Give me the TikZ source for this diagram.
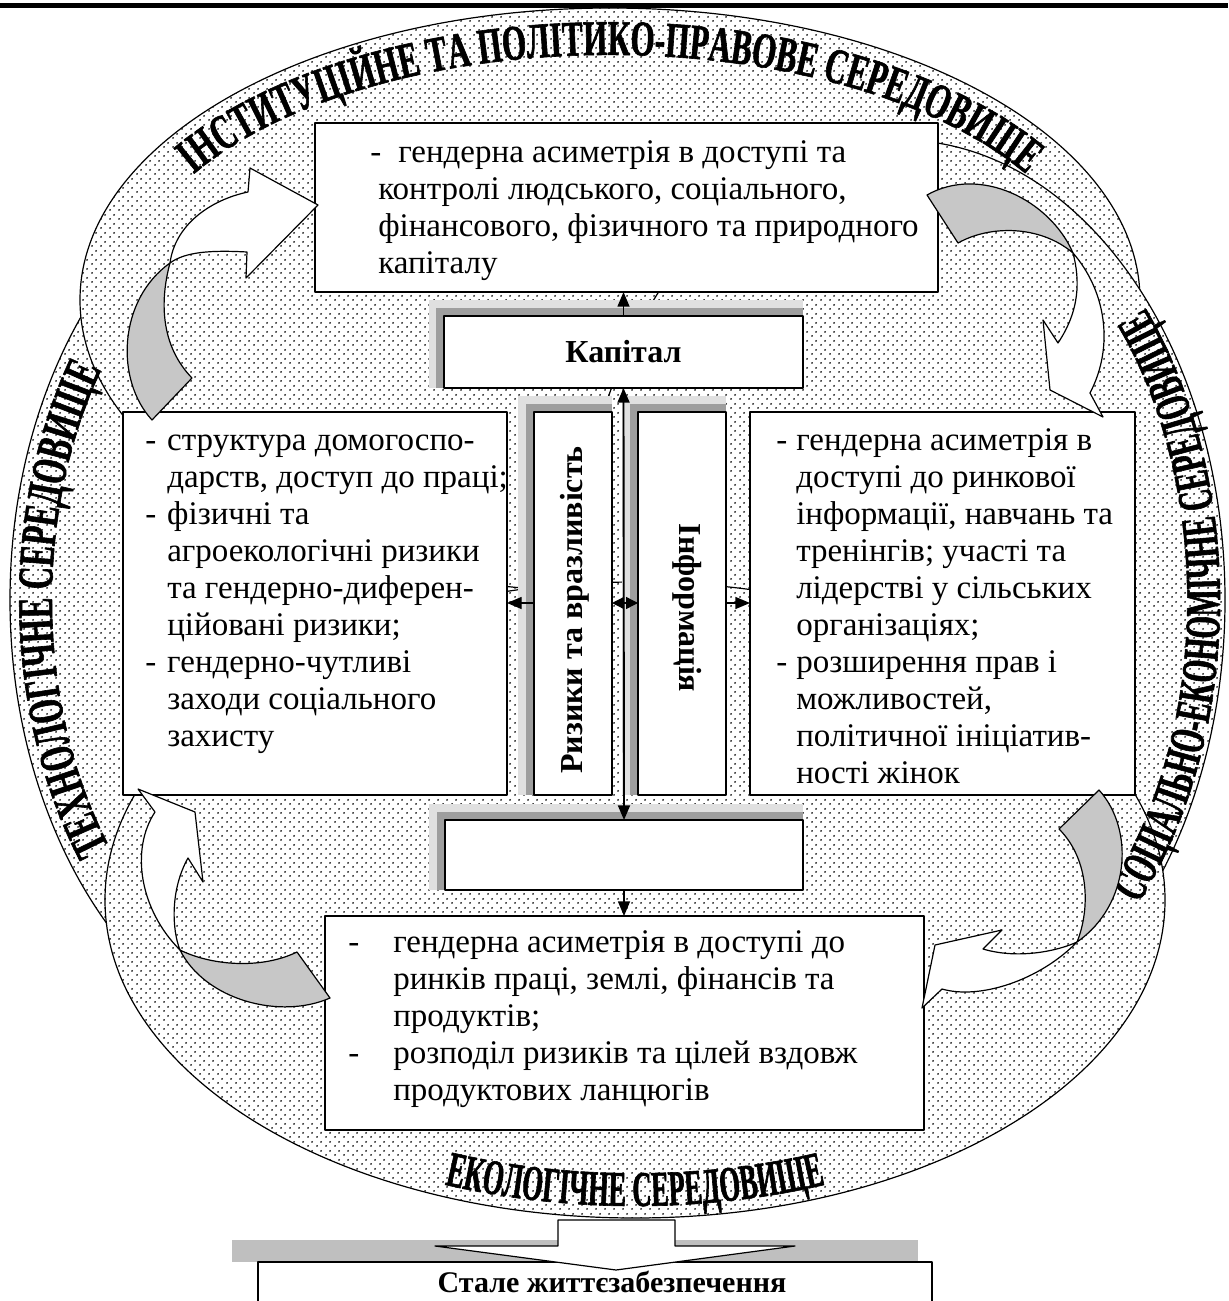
\documentclass[tikz,border=0pt]{standalone}
\usepackage{fontspec}
\setmainfont{Liberation Serif}
\newfontfamily\arcA[FakeStretch=0.62,FakeBold=1.2]{Liberation Serif}
\newfontfamily\arcB[FakeStretch=0.58,FakeBold=1.2]{Liberation Serif}
\newfontfamily\arcC[FakeStretch=0.53,FakeBold=1.2]{Liberation Serif}
\usetikzlibrary{arrows.meta,patterns.meta,decorations.text,fit,calc}
\newcommand\bodyfont{\fontsize{24.75pt}{27.75pt}\selectfont}
\newcommand\lblfont{\bfseries\fontsize{24pt}{24pt}\selectfont}
\tikzdeclarepattern{
  name=wdots,
  type=uncolored,
  bounding box={(0pt,0pt) and (6.75pt,6.75pt)},
  tile size={(6.75pt,6.75pt)},
  code={
    \pgfpathcircle{\pgfpoint{1.69pt}{1.69pt}}{0.8pt}
    \pgfpathcircle{\pgfpoint{5.06pt}{5.06pt}}{0.8pt}
    \pgfusepath{fill}
  }
}
\begin{document}
\begin{tikzpicture}[x=0.75pt,y=-0.75pt,line join=round,
  box/.style={draw=black, line width=0.9pt, fill=white, inner sep=0pt, outer sep=0pt},
  shdark/.style={fill=black!38},
  shlight/.style={fill=black!12},
  arr/.style={line width=1pt, -{Triangle[length=11pt,width=9pt]}},
  darr/.style={line width=1.4pt, {Triangle[length=11pt,width=9pt]}-{Triangle[length=11pt,width=9pt]}},
  sarr/.style={line width=1pt, {Triangle[length=9pt,width=9pt]}-{Triangle[length=9pt,width=9pt]}},
  cwhite/.style={draw=black, line width=0.9pt, fill=white},
  cgrey/.style={draw=black, line width=0.9pt, fill=black!22},
  txt/.style={inner sep=0pt, anchor=base west, font=\bodyfont}
]
\useasboundingbox (0,0) rectangle (1228,1301);

% ---- environments (dotted ellipses)
\foreach \cx/\cy/\rx/\ry in {345/600/335/460, 610/300/530/292, 900/600/325/460, 635/900/530/318}{
  \fill[white] (\cx,\cy) ellipse [x radius=\rx, y radius=\ry];
  \fill[pattern=wdots, pattern color=black] (\cx,\cy) ellipse [x radius=\rx, y radius=\ry];
  \draw[line width=0.9pt] (\cx,\cy) ellipse [x radius=\rx, y radius=\ry];
}

% header rule
\draw[line width=3.8pt] (0,5.5) -- (1228,5.5);

% ---- texts along the ellipses
\path[decorate, decoration={text along path, text align=center,
  text={|\arcA\bfseries\fontsize{37.5pt}{37.5pt}\selectfont|ІНСТИТУЦІЙНЕ ТА ПОЛІТИКО-ПРАВОВЕ СЕРЕДОВИЩЕ}}]
  (610,300) ++(195:485 and 245) arc[start angle=195, end angle=345, x radius=485, y radius=245];
\path[decorate, decoration={text along path, text align=center,
  text={|\arcA\bfseries\fontsize{37.5pt}{37.5pt}\selectfont|ТЕХНОЛОГІЧНЕ СЕРЕДОВИЩЕ}}]
  (345,600) ++(128:293 and 415) arc[start angle=128, end angle=229, x radius=293, y radius=415];
\path[decorate, decoration={text along path, text align=center,
  text={|\arcB\bfseries\fontsize{37.5pt}{37.5pt}\selectfont|СОЦІАЛЬНО-ЕКОНОМІЧНЕ СЕРЕДОВИЩЕ}}]
  (900,600) ++(52:320 and 455) arc[start angle=52, end angle=-50, x radius=320, y radius=455];
\path[decorate, decoration={text along path, text align=center,
  text={|\arcC\bfseries\fontsize{37.5pt}{37.5pt}\selectfont|ЕКОЛОГІЧНЕ СЕРЕДОВИЩЕ}}]
  (635,900) ++(118:518 and 306) arc[start angle=118, end angle=62, x radius=518, y radius=306];

% ---- shadows
\fill[shlight] (429,300) rectangle (803,388);
\fill[shdark] (436,308) rectangle (803,388);
\fill[shlight] (518,396) rectangle (612,795);
\fill[shdark] (526,404) rectangle (612,795);
\fill[shlight] (622,396) rectangle (726,795);
\fill[shdark] (630,404) rectangle (726,795);
\fill[shlight] (429,804) rectangle (803,890);
\fill[shdark] (437,812) rectangle (803,890);

% ---- boxes
\node[box, fit={(315,123) (938,292)}] (T) {};
\node[box, fit={(444,316) (803,388)}] (K) {};
\node[box, fit={(123,412) (507,795)}] (L) {};
\node[box, fit={(534,412) (612,795)}] (R) {};
\node[box, fit={(638,412) (726,795)}] (I) {};
\node[box, fit={(750,412) (1135,795)}] (P) {};
\node[box, fit={(445,820) (803,890)}] (E) {};
\node[box, fit={(325,916) (924,1130)}] (B) {};

% ---- box texts
\node[txt] (Ttx) at (370,163) {\begin{tabular}[t]{@{}p{21pt}@{}l@{}}
-&гендерна асиметрія в доступі та\\
\multicolumn{2}{@{\hspace{6pt}}l@{}}{контролі людського, соціального,}\\
\multicolumn{2}{@{\hspace{6pt}}l@{}}{фінансового, фізичного та природного}\\
\multicolumn{2}{@{\hspace{6pt}}l@{}}{капіталу}
\end{tabular}};
\node[txt] (Ltx) at (145,450) {\begin{tabular}[t]{@{}p{16.5pt}@{}l@{}}
-&структура домогоспо-\\
&дарств, доступ до праці;\\
-&фізичні та\\
&агроекологічні ризики\\
&та гендерно-диферен-\\
&ційовані ризики;\\
-&гендерно-чутливі\\
&заходи соціального\\
&захисту
\end{tabular}};
\node[txt] (Ptx) at (776,450) {\begin{tabular}[t]{@{}p{15pt}@{}l@{}}
-&гендерна асиметрія в\\
&доступі до ринкової\\
&інформації, навчань та\\
&тренінгів; участі та\\
&лідерстві у сільських\\
&організаціях;\\
-&розширення прав і\\
&можливостей,\\
&політичної ініціатив-\\
&ності жінок
\end{tabular}};
\node[txt] (Btx) at (348,952) {\begin{tabular}[t]{@{}p{33.75pt}@{}l@{}}
-&гендерна асиметрія в доступі до\\
&ринків праці, землі, фінансів та\\
&продуктів;\\
-&розподіл ризиків та цілей вздовж\\
&продуктових ланцюгів
\end{tabular}};
\node[font=\lblfont] (Kt) at (K.center) {Капітал};
\node[font=\lblfont, rotate=90] (Rtx) at (575,610) {Ризики та вразливість};
\node[font=\lblfont, rotate=-90] (Itx) at (687,608) {Інформація};

% ---- connectors
\coordinate (h) at (0,603);
\draw[arr] (K.north) -- (K.north |- T.south);
\draw[darr] (K.south) -- (E.north);
\draw[arr] (E.south) -- (E.south |- B.north);
\draw[arr] (R.west |- h) -- (L.east |- h);
\draw[arr] (I.east |- h) -- (P.west |- h);
\draw[sarr] (R.east |- h) -- (I.west |- h);

% ---- curved block arrows
% top-left
\filldraw[cwhite] (170,263) .. controls (175,225) and (210,200) .. (248,192) -- (250,168) -- (318,205) -- (246,278) -- (247,252) .. controls (210,250) and (185,252) .. (170,263) -- cycle;
\filldraw[cgrey] (152,420) .. controls (115,380) and (118,300) .. (170,263) .. controls (160,300) and (160,345) .. (192,378) -- cycle;
% top-right
\filldraw[cgrey] (927,195) .. controls (980,165) and (1050,200) .. (1073,253) .. controls (1040,225) and (990,225) .. (958,243) -- cycle;
\filldraw[cwhite] (1073,253) .. controls (1105,290) and (1115,345) .. (1090,393) -- (1103,417) -- (1050,390) -- (1043,320) -- (1058,343) .. controls (1080,310) and (1080,280) .. (1073,253) -- cycle;
% bottom-right
\filldraw[cgrey] (1099,790) .. controls (1135,830) and (1130,905) .. (1077,942) .. controls (1090,910) and (1090,860) .. (1059,829) -- cycle;
\filldraw[cwhite] (1077,942) .. controls (1040,980) and (980,1000) .. (942,989) -- (922,1008) -- (935,945) -- (1002,930) -- (983,949) .. controls (1020,960) and (1060,950) .. (1077,942) -- cycle;
% bottom-left
\filldraw[cwhite] (180,950) .. controls (140,910) and (130,850) .. (155,812) -- (138,789) -- (195,812) -- (203,882) -- (188,858) .. controls (170,890) and (172,930) .. (180,950) -- cycle;
\filldraw[cgrey] (180,950) .. controls (205,1000) and (280,1020) .. (330,998) -- (297,952) .. controls (260,970) and (210,965) .. (180,950) -- cycle;

% ---- result
\fill[black!25] (232,1240) rectangle (918,1262);
\node[box, fit={(258,1262) (932,1305)}] (S) {};
\node[font=\bfseries\fontsize{22.5pt}{22.5pt}\selectfont, anchor=base] (Stx) at (612,1292) {Стале життєзабезпечення};
\filldraw[cwhite] (558,1220) -- (675,1220) -- (675,1246) -- (795,1246) -- (616,1270) -- (435,1246) -- (558,1246) -- cycle;
\end{tikzpicture}
\end{document}
